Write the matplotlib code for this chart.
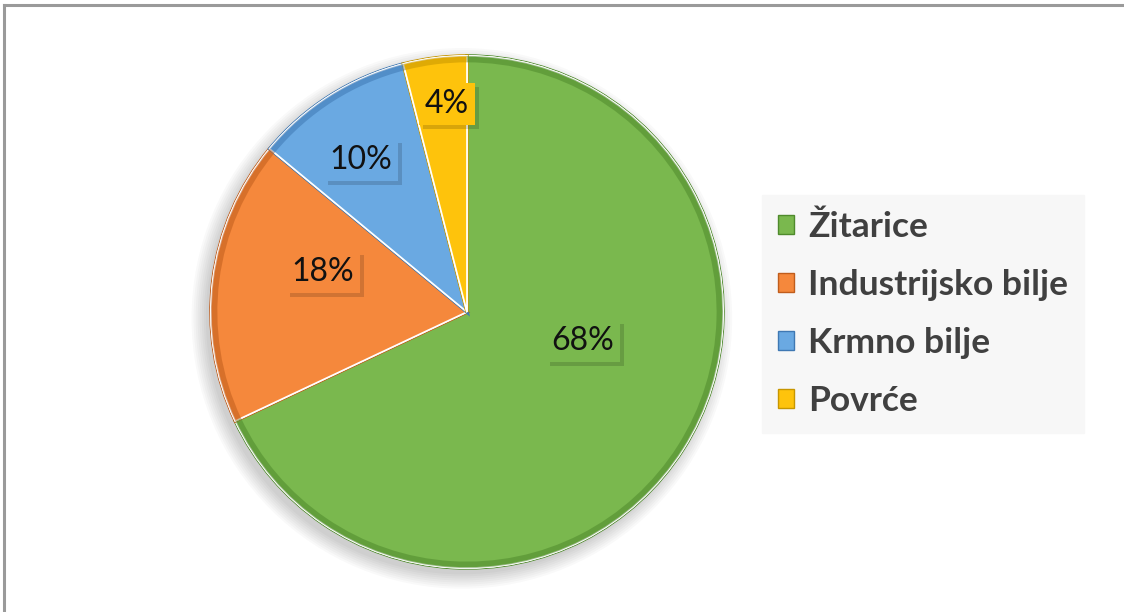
import matplotlib
matplotlib.use("Agg")
import matplotlib.pyplot as plt
import matplotlib.patheffects as pe
from matplotlib.patches import Patch, Circle
from matplotlib.lines import Line2D

# data
categories = ["Žitarice", "Industrijsko bilje", "Krmno bilje", "Povrće"]
shares = [68, 18, 10, 4]
colors = ["#7ab84e", "#f5883c", "#6aa9e2", "#fec30c"]
edge_colors = ["#4f8a2c", "#c05d1c", "#3f78b3", "#c79600"]

# label spots inside the pie (in units of the radius), placed like the original
label_pos = [(0.453, -0.113), (-0.5625, 0.156), (-0.414, 0.594), (-0.078, 0.8125)]

plt.rcParams["font.family"] = ["Lato", "DejaVu Sans"]

fig = plt.figure(figsize=(11.24, 6.12), dpi=100)
fig.patch.set_facecolor("white")

# border of the chart area (only top and left visible in the original)
fig.add_artist(Line2D([4 / 1124, 4 / 1124], [0, 1 - 5 / 612], color="#9a9a9a", lw=2.2,
                      transform=fig.transFigure))
fig.add_artist(Line2D([4 / 1124, 1], [1 - 5 / 612, 1 - 5 / 612], color="#9a9a9a", lw=2.2,
                      transform=fig.transFigure))

lim = 1.1
ax = fig.add_axes([0.1649, 0.0301, 0.5011, 0.9203])

# soft shadow behind the pie
for k in range(8):
    ax.add_patch(Circle((-0.02, -0.025), 1.0 + 0.008 * k, color="black", alpha=0.025,
                        lw=0, zorder=0))

wedges, _ = ax.pie(shares, colors=colors, startangle=90, counterclock=False, radius=1.0,
                   wedgeprops=dict(linewidth=1.2, edgecolor="white"))
for w, ec in zip(wedges, edge_colors):
    w.set_zorder(2)
    w.set_path_effects([pe.withStroke(linewidth=2.5, foreground=ec), pe.Normal()])

# darker rim to give the bevelled look
rim, _ = ax.pie(shares, colors=edge_colors, startangle=90, counterclock=False, radius=1.0,
                wedgeprops=dict(width=0.025, linewidth=0, alpha=0.55))
for r in rim:
    r.set_zorder(3)

# pie() resets the limits, so set them afterwards
ax.set_xlim(-lim, lim)
ax.set_ylim(-lim, lim)
ax.set_aspect("equal")
ax.axis("off")

for (x, y), val, col in zip(label_pos, shares, colors):
    t = ax.text(x, y, f"{val}%", ha="center", va="center", fontsize=23, color="#111111",
                zorder=5,
                bbox=dict(boxstyle="square,pad=0.18", facecolor=col, edgecolor="none"))
    t.get_bbox_patch().set_path_effects([
        pe.SimplePatchShadow(offset=(3, -3), shadow_rgbFace="black", alpha=0.15),
        pe.Normal()])

handles = [Patch(facecolor=c, edgecolor=ec, linewidth=1.0) for c, ec in zip(colors, edge_colors)]
leg = fig.legend(handles, categories, loc="upper left", bbox_to_anchor=(0.678, 0.681),
                 frameon=True, fancybox=False, framealpha=1, facecolor="#f7f7f7",
                 edgecolor="#f7f7f7", handlelength=0.45, handleheight=0.45, handletextpad=0.4,
                 labelspacing=0.73, borderpad=0.45, borderaxespad=0,
                 prop=dict(family="Lato", weight="bold", size=25.5))
for txt in leg.get_texts():
    txt.set_color("#404040")

fig.savefig("out.png", dpi=100, facecolor="white")
